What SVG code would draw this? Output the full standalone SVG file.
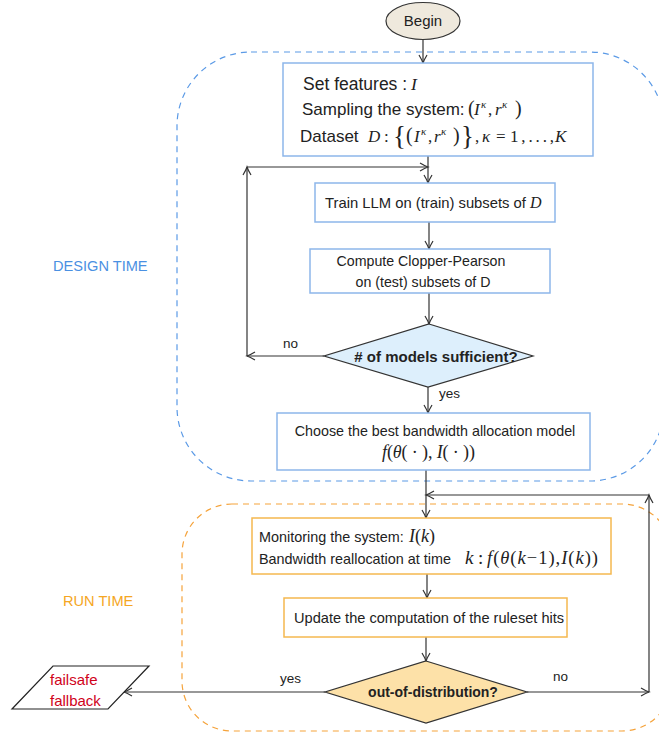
<svg xmlns="http://www.w3.org/2000/svg" width="659" height="735" viewBox="0 0 659 735">
<style>
.s{font-family:"Liberation Sans",Arial,sans-serif;fill:#222}
.m{font-family:"Liberation Serif","Times New Roman",serif;fill:#222}
.i{font-style:italic}
.b{font-weight:bold}
.bx{fill:#fff;stroke:#8db6ea;stroke-width:1.5}
.ox{fill:#fff;stroke:#f5b84f;stroke-width:1.5}
.c{fill:none;stroke:#333;stroke-width:1.2}
.lbl{font-family:"Liberation Sans",Arial,sans-serif;font-size:13.5px;fill:#222}
</style>
<defs>
<marker id="ah" viewBox="-10 -6 12 12" refX="0" refY="0" markerWidth="12" markerHeight="12" markerUnits="userSpaceOnUse" orient="auto">
<path d="M-8,-4 Q-3,-1 0,0 Q-3,1 -8,4" fill="none" stroke="#333" stroke-width="1.2"/>
</marker>
</defs>
<rect width="659" height="735" fill="#fff"/>
<g id="design-region">
<rect x="177" y="52" width="487" height="429" rx="74" fill="none" stroke="#5b9ae6" stroke-width="1.2" stroke-dasharray="6,5"/>
<text x="53" y="271" style="font-family:'Liberation Sans',Arial,sans-serif;font-size:14.6px;fill:#4a90e2">DESIGN TIME</text>
</g>
<g id="run-region">
<rect x="182" y="504" width="490" height="227" rx="50" fill="none" stroke="#f5a33b" stroke-width="1.2" stroke-dasharray="6,5"/>
<text x="63" y="606" style="font-family:'Liberation Sans',Arial,sans-serif;font-size:14.6px;fill:#f5a623">RUN TIME</text>
</g>
<g id="connectors">
<line class="c" x1="423" y1="40" x2="423" y2="63" marker-end="url(#ah)"/>
<line class="c" x1="428" y1="156" x2="428" y2="183" marker-end="url(#ah)"/>
<line class="c" x1="429" y1="222" x2="429" y2="249" marker-end="url(#ah)"/>
<line class="c" x1="429" y1="293" x2="429" y2="324" marker-end="url(#ah)"/>
<line class="c" x1="324" y1="356" x2="247" y2="356" marker-end="url(#ah)"/>
<line class="c" x1="247" y1="356" x2="247" y2="167" marker-end="url(#ah)"/>
<line class="c" x1="247" y1="167" x2="428" y2="167" marker-end="url(#ah)"/>
<line class="c" x1="428" y1="387" x2="428" y2="413" marker-end="url(#ah)"/>
<line class="c" x1="426" y1="470" x2="426" y2="518" marker-end="url(#ah)"/>
<line class="c" x1="427" y1="574" x2="427" y2="598" marker-end="url(#ah)"/>
<line class="c" x1="426" y1="637" x2="426" y2="661" marker-end="url(#ah)"/>
<line class="c" x1="325" y1="692" x2="124" y2="692" marker-end="url(#ah)"/>
<line class="c" x1="527" y1="692" x2="649" y2="692" marker-end="url(#ah)"/>
<line class="c" x1="649" y1="692" x2="649" y2="495" marker-end="url(#ah)"/>
<line class="c" x1="649" y1="495" x2="426" y2="495" marker-end="url(#ah)"/>
<text class="lbl" x="283" y="348">no</text>
<text class="lbl" x="439" y="398">yes</text>
<text class="lbl" x="280" y="683">yes</text>
<text class="lbl" x="553" y="681">no</text>
</g>
<g id="begin">
<ellipse cx="423" cy="21" rx="37" ry="18.5" fill="#efe9dd" stroke="#333" stroke-width="1.2"/>
<text class="s" x="423" y="26" text-anchor="middle" font-size="15">Begin</text>
</g>
<g id="features">
<rect class="bx" x="283" y="63" width="310" height="93"/>
<text class="s" x="303" y="90" font-size="17.5">Set features : <tspan class="m i" x="411">I</tspan></text>
<text class="s" x="302" y="115" font-size="17">Sampling the system:</text>
<text class="m" y="115" font-size="17"><tspan x="468" font-size="20">(</tspan><tspan class="i" x="474">I</tspan><tspan x="481" y="108" font-size="11" class="i">κ</tspan><tspan x="488" y="115">,</tspan><tspan class="i" x="495">r</tspan><tspan x="502" y="108" font-size="11" class="i">κ</tspan><tspan x="515" y="115" font-size="20">)</tspan></text>
<text class="s" x="300" y="142" font-size="17">Dataset</text>
<text class="m" y="142" font-size="17"><tspan class="i" x="368">D</tspan><tspan x="384">:</tspan><tspan x="393" y="145" font-size="27">{</tspan><tspan x="406" y="142" font-size="20">(</tspan><tspan class="i" x="414">I</tspan><tspan x="421" y="135" font-size="11" class="i">κ</tspan><tspan x="428" y="142">,</tspan><tspan class="i" x="434">r</tspan><tspan x="441" y="135" font-size="11" class="i">κ</tspan><tspan x="453" y="142" font-size="20">)</tspan><tspan x="461" y="145" font-size="27">}</tspan><tspan x="475" y="142">,</tspan><tspan class="i" x="482">κ</tspan><tspan x="496">=</tspan></text>
<text class="m" x="510" y="142" font-size="17" textLength="44" lengthAdjust="spacing">1,...,</text>
<text class="m i" x="555" y="142" font-size="17">K</text>
</g>
<g id="train">
<rect class="bx" x="315" y="183" width="240" height="39"/>
<text class="s" x="325" y="208" font-size="14.8">Train LLM on (train) subsets of <tspan class="m i" font-size="16">D</tspan></text>
</g>
<g id="compute">
<rect class="bx" x="310" y="249" width="240" height="44"/>
<text class="s" x="421" y="266" font-size="14.2" text-anchor="middle">Compute Clopper-Pearson</text>
<text class="s" x="423" y="287" font-size="14.2" text-anchor="middle">on (test) subsets of D</text>
</g>
<g id="sufficient">
<polygon points="429,324 533,356 428,387 324,356" fill="#ddeffc" stroke="#333" stroke-width="1.2"/>
<text class="s b" x="436" y="362" font-size="15" text-anchor="middle">#  of models sufficient?</text>
</g>
<g id="choose">
<rect class="bx" x="277" y="413" width="313" height="57"/>
<text class="s" x="435" y="436" font-size="14.3" text-anchor="middle">Choose the best bandwidth allocation model</text>
<text class="m" x="382" y="458" font-size="18" textLength="93" lengthAdjust="spacing"><tspan class="i">f</tspan>(<tspan class="i">θ</tspan>( · ), <tspan class="i">I</tspan>( · ))</text>
</g>
<g id="monitor">
<rect class="ox" x="252" y="518" width="359" height="56"/>
<text class="s" x="259" y="542" font-size="14.4">Monitoring the system:</text>
<text class="m" x="409" y="542" font-size="18"><tspan class="i">I</tspan>(<tspan class="i">k</tspan>)</text>
<text class="s" x="259" y="564" font-size="14.4">Bandwidth reallocation at time</text>
<text class="m" x="465" y="564" font-size="19"><tspan class="i">k</tspan><tspan x="478">:</tspan></text>
<text class="m" x="487" y="564" font-size="18.5" textLength="111" lengthAdjust="spacing"><tspan class="i">f</tspan>(<tspan class="i">θ</tspan>(<tspan class="i">k</tspan>−1),<tspan class="i">I</tspan>(<tspan class="i">k</tspan>))</text>
</g>
<g id="update">
<rect class="ox" x="284" y="598" width="283" height="39"/>
<text class="s" x="294" y="623" font-size="14.6">Update the computation of the ruleset hits</text>
</g>
<g id="ood">
<polygon points="426,661 527,692 426,723 325,692" fill="#fde1a8" stroke="#333" stroke-width="1.2"/>
<text class="s b" x="433" y="697" font-size="14" text-anchor="middle">out-of-distribution?</text>
</g>
<g id="fallback">
<polygon points="53,666 149,666 108,709 12,709" fill="#fff" stroke="#222" stroke-width="1.2"/>
<text x="50" y="685" style="font-family:'Liberation Sans',Arial,sans-serif;font-size:15px;fill:#d0021b">failsafe</text>
<text x="50" y="706" style="font-family:'Liberation Sans',Arial,sans-serif;font-size:15px;fill:#d0021b">fallback</text>
</g>
</svg>
